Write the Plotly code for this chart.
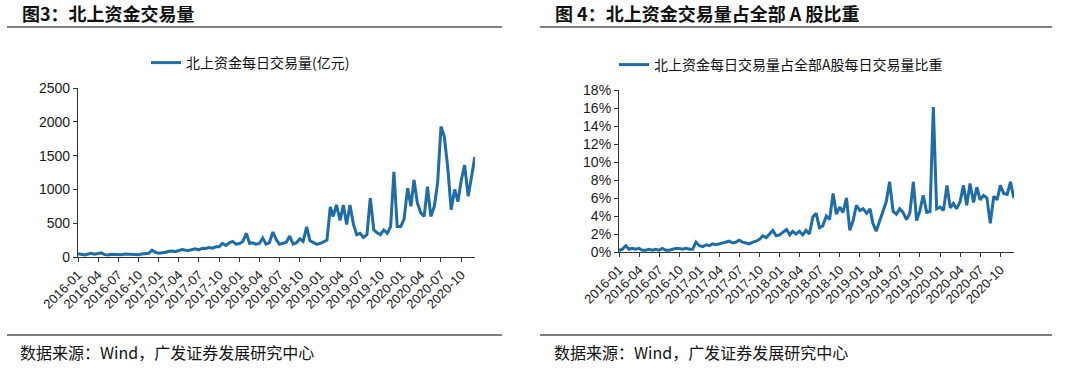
import plotly.graph_objects as go

W, H = 1080, 369

# semi-monthly observation dates (1st and 16th of each month), 2016-01-01 .. 2020-12-01
dates = []
for yr in range(2016, 2021):
    for mo in range(1, 13):
        for d in (1, 16):
            s = f"{yr}-{mo:02d}-{d:02d}"
            if s <= "2020-12-01":
                dates.append(s)

# 北上资金每日交易量 (亿元)
vol_2016 = [50, 35, 30, 45, 55, 40, 45, 60, 35, 30, 40, 35, 30, 35, 45, 40, 35, 40, 35, 45, 50, 55, 100, 70]
vol_2017 = [55, 60, 70, 85, 90, 80, 95, 110, 100, 95, 110, 120, 105, 130, 125, 140, 130, 150, 150, 200, 170, 210, 230, 190]
vol_2018 = [200, 230, 350, 200, 210, 190, 200, 280, 190, 210, 370, 260, 190, 200, 220, 310, 190, 210, 270, 230, 445, 240, 210, 190]
vol_2019 = [200, 230, 250, 740, 600, 770, 540, 770, 480, 770, 480, 330, 350, 290, 330, 870, 400, 360, 330, 400, 350, 450, 1260, 450]
vol_2020 = [450, 560, 1020, 750, 1140, 800, 650, 600, 1040, 600, 750, 1100, 1930, 1780, 1310, 700, 1000, 820, 1140, 1360, 900, 1180, 1480]
volume = vol_2016 + vol_2017 + vol_2018 + vol_2019 + vol_2020

# 北上资金每日交易量占全部A股每日交易量比重 (%)
pct_2016 = [0.2, 0.3, 0.7, 0.3, 0.4, 0.3, 0.4, 0.2, 0.2, 0.3, 0.2, 0.3, 0.2, 0.4, 0.2, 0.2, 0.3, 0.4, 0.4, 0.3, 0.4, 0.3, 0.3, 1.1]
pct_2017 = [0.7, 0.6, 0.8, 0.7, 0.9, 0.8, 0.9, 1.0, 1.1, 1.2, 1.0, 1.1, 1.3, 1.1, 1.0, 0.9, 1.1, 1.2, 1.4, 1.8, 1.6, 2.0, 2.4, 1.8]
pct_2018 = [1.9, 2.2, 2.5, 1.9, 2.3, 2.0, 2.3, 1.9, 2.4, 2.0, 3.9, 4.3, 2.7, 2.9, 4.0, 3.6, 6.5, 4.2, 5.0, 4.4, 6.0, 2.4, 3.5, 5.2]
pct_2019 = [4.6, 4.8, 4.3, 4.8, 3.2, 2.3, 3.5, 4.6, 5.6, 7.8, 4.5, 4.2, 4.8, 4.4, 3.6, 4.3, 7.8, 3.5, 4.6, 6.3, 4.4, 4.5, 16.1, 4.8]
pct_2020 = [5.0, 4.6, 7.4, 4.9, 5.4, 4.8, 5.6, 7.4, 5.2, 7.6, 5.5, 7.2, 5.8, 6.3, 6.0, 3.2, 6.2, 5.8, 7.4, 6.5, 6.4, 7.8, 6.0]
share = pct_2016 + pct_2017 + pct_2018 + pct_2019 + pct_2020

tick_labels = ["2016-01", "2016-04", "2016-07", "2016-10", "2017-01", "2017-04", "2017-07", "2017-10",
               "2018-01", "2018-04", "2018-07", "2018-10", "2019-01", "2019-04", "2019-07", "2019-10",
               "2020-01", "2020-04", "2020-07", "2020-10"]

title_left = "图3：北上资金交易量"
title_right = "图 4：北上资金交易量占全部 A 股比重"
source_text = "数据来源：Wind，广发证券发展研究中心"
name_left = "北上资金每日交易量(亿元)"
name_right = "北上资金每日交易量占全部A股每日交易量比重"

LINE = "#1E6CA8"
AXIS = "#333333"
TXT = "#1A1A1A"
CJK = "Noto Sans CJK SC"
LAT = "Liberation Sans, Arial, sans-serif"


def px(x):
    return x / W


def py(y):
    return 1 - y / H


fig = go.Figure()
fig.add_trace(go.Scatter(x=dates, y=volume, mode="lines", name=name_left,
                         line=dict(color=LINE, width=3), xaxis="x", yaxis="y", legend="legend"))
fig.add_trace(go.Scatter(x=dates, y=share, mode="lines", name=name_right,
                         line=dict(color=LINE, width=3), xaxis="x2", yaxis="y2", legend="legend2"))

xcommon = dict(type="date", tickmode="array", tickvals=tick_labels, ticktext=tick_labels,
               tickangle=-45, ticks="outside", ticklen=4, tickcolor=AXIS, showline=True,
               linecolor=AXIS, linewidth=1.2, showgrid=False, zeroline=False,
               tickfont=dict(family=LAT, size=13, color=TXT), range=["2016-01-01", "2020-12-02"],
               automargin=False, fixedrange=True)
ycommon = dict(ticks="outside", ticklen=4, tickcolor=AXIS, showline=True, linecolor=AXIS,
               linewidth=1.2, showgrid=False, zeroline=False,
               tickfont=dict(family=LAT, size=14, color=TXT), automargin=False, fixedrange=True)

fig.update_layout(
    width=W, height=H,
    margin=dict(l=0, r=0, t=0, b=0),
    paper_bgcolor="white", plot_bgcolor="white",
    xaxis=dict(domain=[px(78), px(475)], anchor="y", **xcommon),
    yaxis=dict(domain=[py(257), py(88)], anchor="x", range=[0, 2500], dtick=500, **ycommon),
    xaxis2=dict(domain=[px(619), px(1014)], anchor="y2", **xcommon),
    yaxis2=dict(domain=[py(252), py(90)], anchor="x2", range=[0, 18], dtick=2, ticksuffix="%", **ycommon),
    legend=dict(x=px(146), y=py(63), xanchor="left", yanchor="middle", bgcolor="rgba(0,0,0,0)",
                font=dict(family=CJK, size=14, color="#111"), itemwidth=30),
    legend2=dict(x=px(614), y=py(65), xanchor="left", yanchor="middle", bgcolor="rgba(0,0,0,0)",
                 font=dict(family=CJK, size=14, color="#111"), itemwidth=30),
    showlegend=True,
)

# titles and source notes
fig.add_annotation(x=px(20), y=py(13), xref="paper", yref="paper", xanchor="left", yanchor="middle",
                   text=f"<b>{title_left}</b>", showarrow=False, font=dict(family=CJK, size=18, color="#111"))
fig.add_annotation(x=px(553), y=py(13), xref="paper", yref="paper", xanchor="left", yanchor="middle",
                   text=f"<b>{title_right}</b>", showarrow=False, font=dict(family=CJK, size=18, color="#111"))
for x0 in (18, 552):
    fig.add_annotation(x=px(x0), y=py(352), xref="paper", yref="paper", xanchor="left", yanchor="middle",
                       text=source_text, showarrow=False, font=dict(family=CJK, size=16, color="#111"))

# separator rules
for (x0, x1) in ((7, 502), (540, 1052)):
    for yy in (27, 335):
        fig.add_shape(type="line", xref="paper", yref="paper", x0=px(x0), x1=px(x1), y0=py(yy), y1=py(yy),
                      line=dict(color="#7F7F7F", width=2))

# remove the browser's default 8px page margin so the figure fills the 1080x369 window exactly
fig.write_html("out.html", config={"displayModeBar": False},
               post_script="document.body.style.margin='0';document.body.style.overflow='hidden';")
